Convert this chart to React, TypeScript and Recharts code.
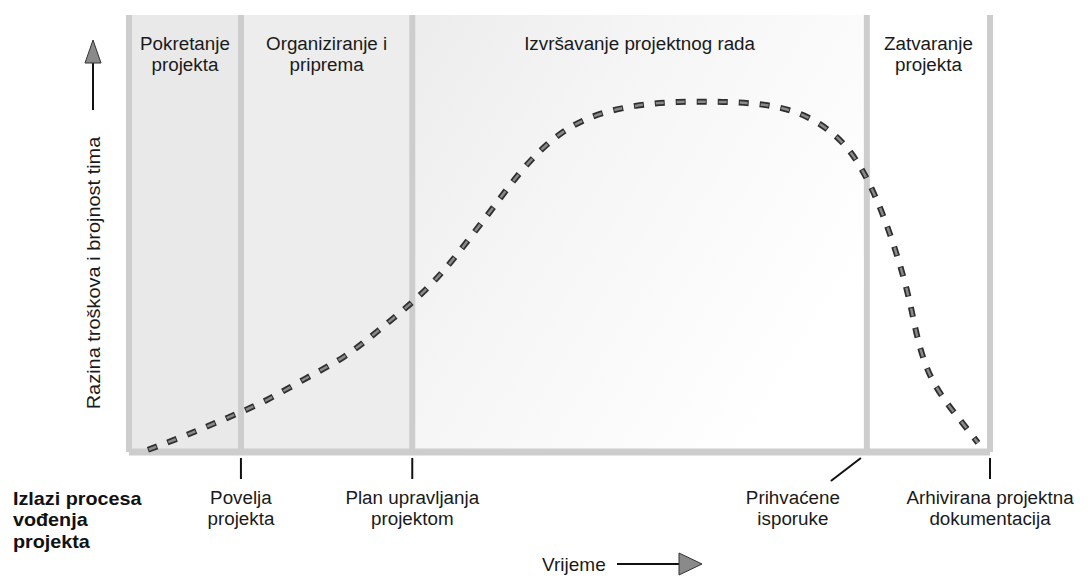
import React from "react";
import {
  LineChart,
  Line,
  XAxis,
  YAxis,
  ReferenceArea,
  ReferenceLine,
  Label,
} from "recharts";

// phase boundaries on the time axis (0..100)
const boundaries = [0, 13.0, 32.9, 85.7, 100];

const phaseNames = [
  ["Pokretanje", "projekta"],
  ["Organiziranje i", "priprema"],
  ["Izvršavanje projektnog rada"],
  ["Zatvaranje", "projekta"],
];

const outputNames = [
  ["Povelja", "projekta"],
  ["Plan upravljanja", "projektom"],
  ["Prihvaćene", "isporuke"],
  ["Arhivirana projektna", "dokumentacija"],
];

const timeSteps = [
  2.2, 6.7, 11.4, 16.0, 20.4, 24.9, 28.9, 32.9, 36.4, 39.6, 42.7, 45.8, 49.5,
  53.8, 58.8, 63.8, 68.9, 73.9, 78.7, 82.9, 85.7, 87.7, 89.4, 90.7, 91.8, 93.7,
  96.7, 98.6,
];
const effortLevel = [
  0.5, 3.9, 7.8, 11.9, 16.7, 21.7, 27.7, 34.3, 41.2, 49.0, 57.0, 64.8, 71.9,
  76.7, 79.2, 80.1, 80.1, 79.4, 76.7, 70.7, 62.5, 53.5, 43.7, 34.1, 24.5, 15.1,
  6.9, 2.1,
];

const yTitle = "Razina troškova i brojnost tima";
const xTitle = "Vrijeme";
const outputsTitle = ["Izlazi procesa", "vođenja", "projekta"];

const phaseFills = ["#e9e9e9", "#ededed", "url(#execFade)", "#ffffff"];

const font = "'Liberation Sans', Arial, Helvetica, sans-serif";
const textColor = "#1a1a1a";

const data = timeSteps.map((t, i) => ({ t, v: effortLevel[i] }));

// multi-line text, optionally squeezed sideways
function NarrowText(props: any) {
  const { x, y, lines, anchor = "middle", bold = false, squeeze = 0.99, rotate = 0 } = props;
  return (
    <g transform={`translate(${x} ${y}) rotate(${rotate}) scale(${squeeze} 1)`}>
      <text
        x={0}
        y={0}
        textAnchor={anchor}
        fontFamily={font}
        fontSize={19}
        fontWeight={bold ? "bold" : "normal"}
        fill={bold ? "#111" : textColor}
      >
        {lines.map((l: string, i: number) => (
          <tspan key={i} x={0} dy={i === 0 ? 0 : 21.5}>
            {l}
          </tspan>
        ))}
      </text>
    </g>
  );
}

function PhaseLabel(props: any) {
  const { viewBox, lines } = props;
  return <NarrowText x={viewBox.x + viewBox.width / 2} y={viewBox.y + 35} lines={lines} />;
}

function OutputLabel(props: any) {
  const { viewBox, lines, slanted } = props;
  const x = viewBox.x;
  const bottom = viewBox.y + viewBox.height;
  const cx = slanted ? x - 74 : x;
  return (
    <g>
      {slanted ? (
        <line x1={x - 6} y1={bottom + 6} x2={x - 36} y2={bottom + 29} stroke="#111" strokeWidth={2} />
      ) : (
        <line x1={x} y1={bottom + 6} x2={x} y2={bottom + 27} stroke="#111" strokeWidth={2} />
      )}
      <NarrowText x={cx} y={bottom + 52} lines={lines} />
    </g>
  );
}

// axis titles, drawn from the left edge of the plot area
function AxisTitles(props: any) {
  const { viewBox } = props;
  const left = viewBox.x;
  const top = viewBox.y;
  const bottom = viewBox.y + viewBox.height;
  const ax = left - 36;
  return (
    <g>
      <NarrowText x={ax + 7} y={top + 258} lines={[yTitle]} rotate={-90} squeeze={1.05} />
      <line x1={ax} y1={top + 95} x2={ax} y2={top + 45} stroke="#111" strokeWidth={2} />
      <polygon
        points={`${ax},${top + 25} ${ax - 8},${top + 48} ${ax + 8},${top + 48}`}
        fill="#8a8a8a"
        stroke="#333"
        strokeWidth={1}
      />
      <NarrowText x={left + 413} y={bottom + 119} lines={[xTitle]} anchor="start" squeeze={1.0} />
      <line x1={left + 488} y1={bottom + 112} x2={left + 552} y2={bottom + 112} stroke="#111" strokeWidth={2} />
      <polygon
        points={`${left + 550},${bottom + 101} ${left + 573},${bottom + 112} ${left + 550},${bottom + 123}`}
        fill="#8a8a8a"
        stroke="#333"
        strokeWidth={1}
      />
      <NarrowText x={13} y={bottom + 53} lines={outputsTitle} anchor="start" bold squeeze={1.04} />
    </g>
  );
}

export default function App() {
  return (
    <div style={{ position: "absolute", left: 0, top: 0, width: 1088, height: 576, background: "#fff" }}>
      <LineChart
        width={1088}
        height={576}
        data={data}
        margin={{ top: 15, right: 98, bottom: 124, left: 129 }}
      >
        <defs>
          <linearGradient id="execFade" x1="0" y1="0" x2="1" y2="0.6">
            <stop offset="0%" stopColor="#ececec" />
            <stop offset="40%" stopColor="#f5f5f5" />
            <stop offset="100%" stopColor="#ffffff" />
          </linearGradient>
        </defs>
        <XAxis dataKey="t" type="number" domain={[0, 100]} hide />
        <YAxis type="number" domain={[0, 100]} hide />
        {phaseNames.map((lines, i) => (
          <ReferenceArea
            key={`area-${i}`}
            x1={boundaries[i]}
            x2={boundaries[i + 1]}
            y1={0}
            y2={100}
            fill={phaseFills[i]}
            fillOpacity={1}
            stroke="none"
          >
            <Label content={<PhaseLabel lines={lines} />} />
          </ReferenceArea>
        ))}
        <ReferenceLine y={0} stroke="#cdcdcd" strokeWidth={7} />
        {boundaries.map((b, i) => (
          <ReferenceLine key={`b-${i}`} x={b} stroke="#cdcdcd" strokeWidth={6}>
            {i > 0 ? (
              <Label content={<OutputLabel lines={outputNames[i - 1]} slanted={i === 3} />} />
            ) : (
              <Label content={<AxisTitles />} />
            )}
          </ReferenceLine>
        ))}
        <Line
          dataKey="v"
          type="natural"
          stroke="#2e2e2e"
          strokeWidth={6}
          strokeDasharray="10 11"
          dot={false}
          activeDot={false}
          isAnimationActive={false}
        />
        <Line
          dataKey="v"
          type="natural"
          stroke="#8a8a8a"
          strokeWidth={2.5}
          strokeDasharray="8 13"
          strokeDashoffset={-1}
          dot={false}
          activeDot={false}
          isAnimationActive={false}
        />
      </LineChart>
    </div>
  );
}
